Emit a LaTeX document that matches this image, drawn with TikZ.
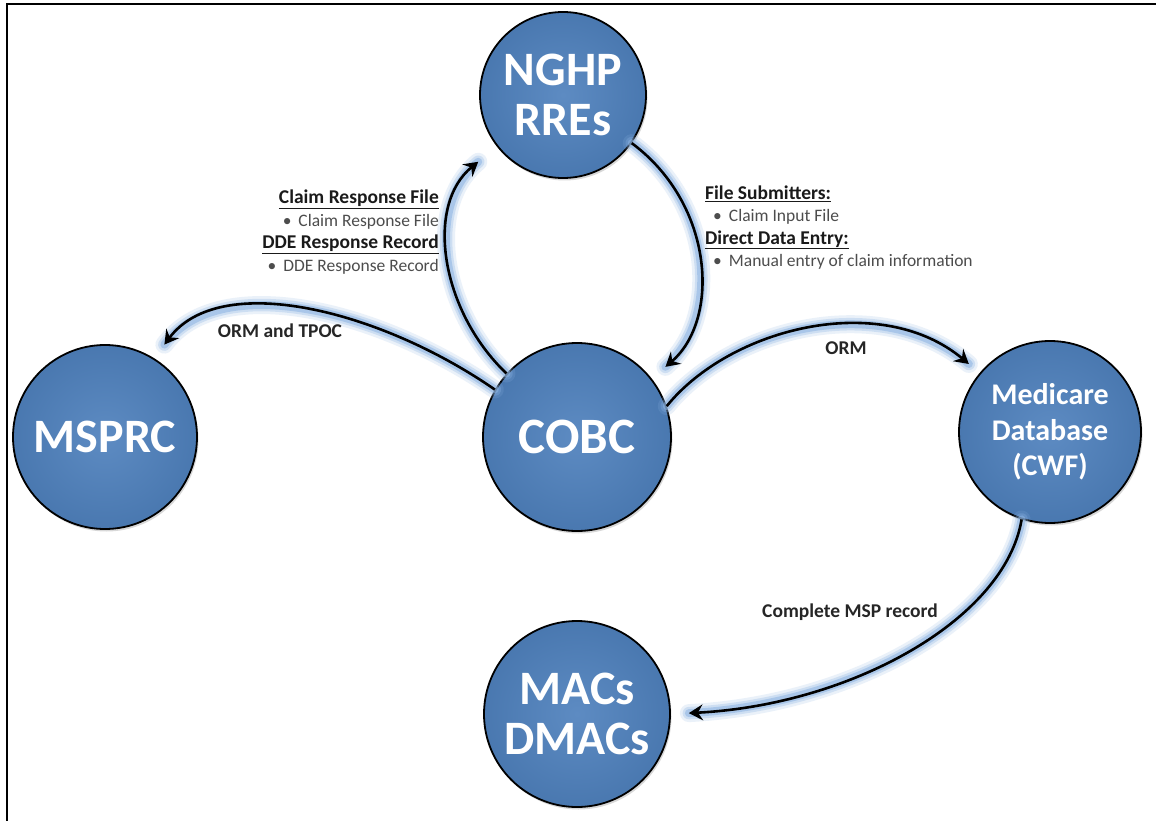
\documentclass[tikz,border=0pt]{standalone}
\usepackage{fontspec}
\setmainfont{Carlito}
\usetikzlibrary{arrows.meta,shadows,calc}
\definecolor{circ}{HTML}{4F81BD}
\definecolor{glowc}{HTML}{8DB4E2}
\definecolor{hdr}{HTML}{1A1A1A}
\definecolor{bul}{HTML}{4D4D4D}
\definecolor{lblc}{HTML}{262626}
\begin{document}
\begin{tikzpicture}[x=1pt,y=-1pt,
  ball/.style={circle, draw=black, line width=1.8pt, minimum size=#1, inner sep=0pt,
    text=white, align=center, inner color=circ!92!white, outer color=circ!93!black,
    drop shadow={shadow xshift=1.5pt, shadow yshift=-2.5pt, opacity=0.3}},
  bigtxt/.style={font=\bfseries\fontsize{48}{50}\selectfont},
  midtxt/.style={font=\bfseries\fontsize{30}{35.5}\selectfont},
  conn/.style={line width=2.6pt, draw=black,
    -{Stealth[length=14pt,width=16pt,inset=5pt]},
    preaction={draw=glowc, line width=18pt, opacity=0.18, -, line cap=round},
    preaction={draw=glowc, line width=12.5pt, opacity=0.3, -, line cap=round},
    preaction={draw=glowc, line width=8pt, opacity=0.55, -, line cap=round}},
  lbl/.style={font=\bfseries\fontsize{19.5}{22}\selectfont, text=lblc, inner sep=0pt},
  blk/.style={inner sep=0pt},
  hd/.style={font=\bfseries\fontsize{19.5}{22.5}\selectfont},
]
\useasboundingbox (0,0) rectangle (1156,821);
\fill[white] (0,0) rectangle (1156,821);
\draw[line width=2pt] (7,821) -- (7,4) -- (1156,4);

% nodes
\node[ball=166pt, bigtxt] (nghp) at (563,95) {NGHP\\RREs};
\node[ball=188pt, bigtxt, font=\bfseries\fontsize{51}{52}\selectfont] (cobc) at (577,437) {COBC};
\node[ball=184pt, bigtxt] (msprc) at (105,437) {MSPRC};
\node[ball=182pt, midtxt] (med) at (1050,432) {Medicare\\Database\\(CWF)};
\node[ball=186pt, bigtxt] (macs) at (577,714) {MACs\\DMACs};

% connectors
\draw[conn, shorten >=24pt] (cobc.138) .. controls (440,310) and (425,205) .. (nghp.218);
\draw[conn, shorten >=18pt] (nghp.-35) .. controls (715,205) and (720,320) .. (cobc.38);
\draw[conn, shorten >=17pt] (cobc.150) .. controls (380,310) and (220,270) .. (msprc.58);
\draw[conn, shorten >=14pt] (cobc.19) .. controls (730,328) and (880,290) .. (med.140);
\draw[conn, shorten >=18pt] (med.252) .. controls (1005,620) and (850,705) .. (macs.0);

% labels
\node[lbl] (l1) at (280,331) {ORM and TPOC};
\node[lbl] (l2) at (846,348) {ORM};
\node[lbl] (l3) at (850,612) {Complete MSP record};

\node[blk, anchor=east, align=right, font=\fontsize{17.5}{22.5}\selectfont] (lb) at (439,232) {%
  \textcolor{hdr}{\bfseries\fontsize{19.5}{22.5}\selectfont\underline{Claim Response File}}\\
  \textcolor{bul}{\textbullet\hspace{7pt}Claim Response File}\\
  \textcolor{hdr}{\bfseries\fontsize{19.5}{22.5}\selectfont\underline{DDE Response Record}}\\
  \textcolor{bul}{\textbullet\hspace{7pt}DDE Response Record}};

\node[blk, anchor=west, align=left, font=\fontsize{17.5}{22.5}\selectfont] (rb) at (705,227.5) {%
  \textcolor{hdr}{\bfseries\fontsize{19.5}{22.5}\selectfont\underline{File Submitters:}}\\
  \hspace*{8pt}\textcolor{bul}{\textbullet\hspace{7pt}Claim Input File}\\
  \textcolor{hdr}{\bfseries\fontsize{19.5}{22.5}\selectfont\underline{Direct Data Entry:}}\\
  \hspace*{8pt}\textcolor{bul}{\textbullet\hspace{7pt}Manual entry of claim information}};
\end{tikzpicture}
\end{document}
